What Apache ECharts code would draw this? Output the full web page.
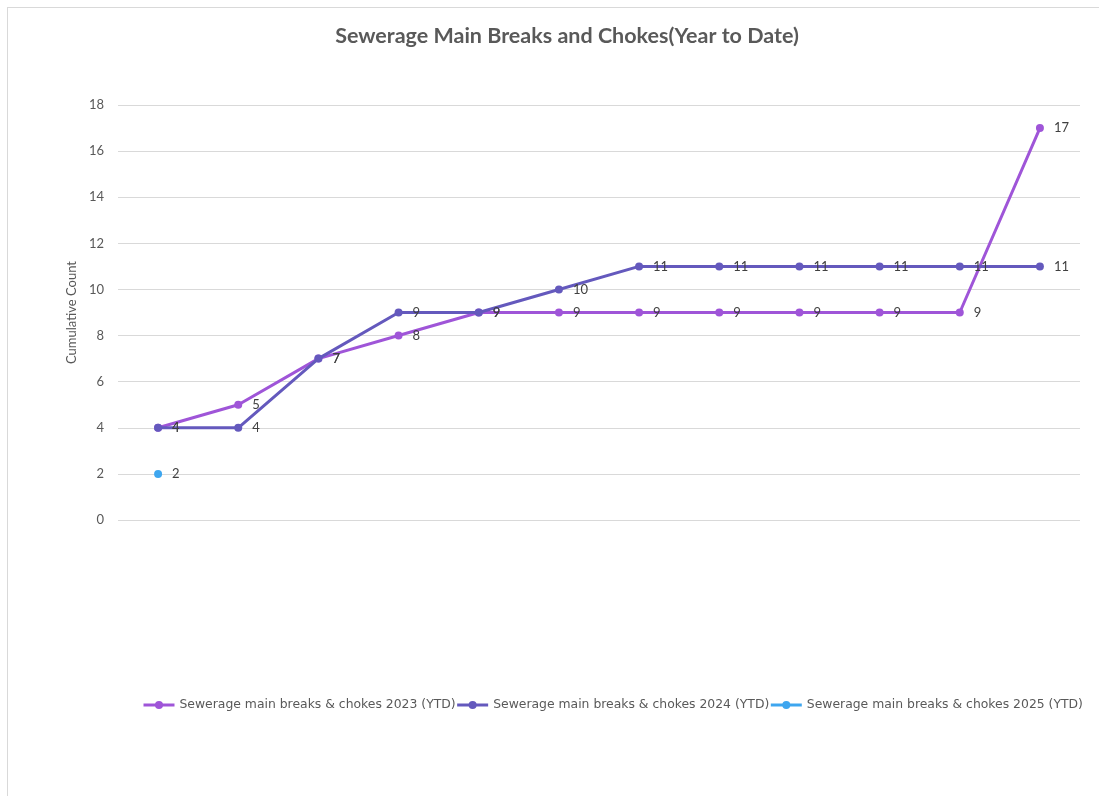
<!DOCTYPE html>
<html>
<head>
<meta charset="utf-8">
<script src="https://cdn.jsdelivr.net/npm/echarts@6/dist/echarts.min.js"></script>
<style>
html,body{margin:0;padding:0;background:#fff;}
#frame{position:absolute;left:7px;top:7px;width:1200px;height:900px;border-left:1px solid #d9d9d9;border-top:1px solid #d9d9d9;}
#chart{position:absolute;left:0;top:0;width:1099px;height:796px;}
</style>
</head>
<body>
<div id="frame"></div>
<div id="chart"></div>
<script>
const categories = ['Jan','Feb','Mar','Apr','May','Jun','Jul','Aug','Sep','Oct','Nov','Dec'];
const seriesNames = [
  'Sewerage main breaks & chokes 2023 (YTD)',
  'Sewerage main breaks & chokes 2024 (YTD)',
  'Sewerage main breaks & chokes 2025 (YTD)'
];
const values2023 = [4, 5, 7, 8, 9, 9, 9, 9, 9, 9, 9, 17];
const values2024 = [4, 4, 7, 9, 9, 10, 11, 11, 11, 11, 11, 11];
const values2025 = [2, null, null, null, null, null, null, null, null, null, null, null];
const yTicks = {min: 0, max: 18, interval: 2};

const colors = ['#9f55d8', '#6459bd', '#3ea6ef'];
const chart = echarts.init(document.getElementById('chart'), null, {renderer: 'canvas'});
function mk(name, data, color, z) {
  return {
    name: name, type: 'line', data: data, z: z,
    symbol: 'circle', symbolSize: 8,
    lineStyle: {width: 3, color: color},
    itemStyle: {color: color},
    label: {show: true, position: 'right', distance: 10, color: '#404040', fontSize: 13, fontFamily: 'Lato'},
    emphasis: {disabled: true}
  };
}
chart.setOption({
  animation: false,
  backgroundColor: 'transparent',
  title: {
    text: 'Sewerage Main Breaks and Chokes(Year to Date)',
    left: 562, top: 20, textAlign: 'center',
    textStyle: {fontFamily: 'Lato', fontWeight: 'bold', fontSize: 21.5, color: '#595959'}
  },
  legend: {
    data: seriesNames,
    left: 142, top: 699, width: 1000, padding: 0,
    itemGap: 0, itemWidth: 31, itemHeight: 10,
    lineStyle: {width: 3},
    textStyle: {fontFamily: 'DejaVu Sans', fontSize: 12.4, color: '#595959'}
  },
  grid: {left: 118, right: 19, top: 105, bottom: 276},
  xAxis: {
    type: 'category', data: categories, boundaryGap: true,
    axisLine: {show: false}, axisTick: {show: false}, axisLabel: {show: false}
  },
  yAxis: {
    type: 'value', min: yTicks.min, max: yTicks.max, interval: yTicks.interval,
    name: 'Cumulative Count', nameLocation: 'middle', nameGap: 30, nameRotate: 90,
    nameTextStyle: {fontFamily: 'Lato', fontSize: 13, color: '#595959'},
    axisLine: {show: false}, axisTick: {show: false},
    axisLabel: {fontFamily: 'Lato', fontSize: 13, color: '#595959', margin: 14},
    splitLine: {lineStyle: {color: '#d9d9d9', width: 1}}
  },
  series: [
    mk(seriesNames[0], values2023, colors[0], 2),
    mk(seriesNames[1], values2024, colors[1], 3),
    mk(seriesNames[2], values2025, colors[2], 4)
  ]
});
</script>
</body>
</html>
